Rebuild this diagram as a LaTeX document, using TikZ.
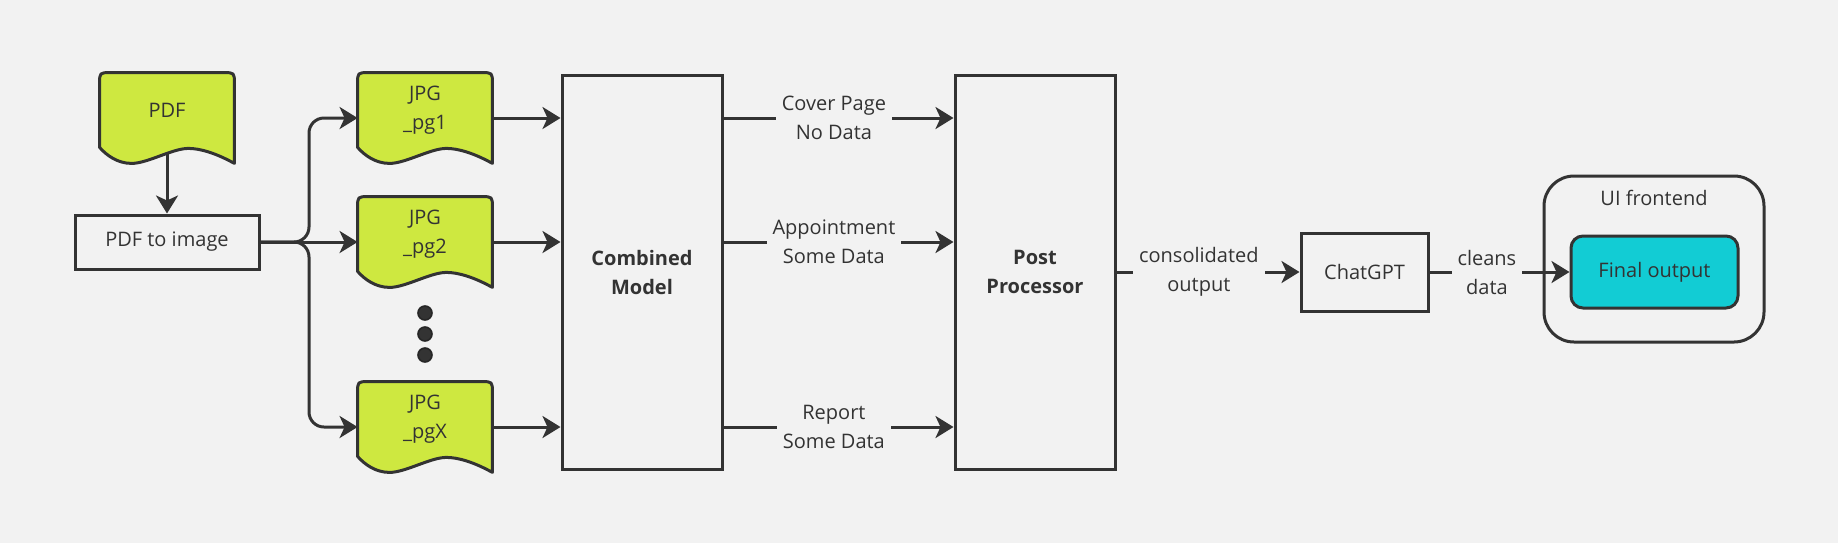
\documentclass[tikz,border=0pt]{standalone}
\usepackage{fontspec}
\setmainfont{Open Sans}
\usetikzlibrary{arrows.meta, positioning, calc}
\definecolor{canvasgray}{RGB}{242,242,242}
\definecolor{inkgray}{RGB}{51,51,51}
\definecolor{pagegreen}{RGB}{206,232,64}
\definecolor{outputcyan}{RGB}{18,204,212}
% outline of a page node (wavy bottom)
\newcommand{\pagedoc}[1]{%
    \filldraw[docline] ($(#1.south west)+(0,-16)$) -- ($(#1.north west)+(0,11)$)
        .. controls (#1.north west) .. ($(#1.north west)+(11,0)$)
        -- ($(#1.north east)+(-11,0)$)
        .. controls (#1.north east) .. ($(#1.north east)+(0,11)$)
        -- (#1.south east)
        .. controls ($(#1.south east)+(-18,-10)$) and ($(#1.south east)+(-34,-15)$) .. ($(#1.south east)+(-46,-15)$)
        .. controls ($(#1.south east)+(-62,-15)$) and ($(#1.south west)+(48,0)$) .. ($(#1.south west)+(32,0)$)
        .. controls ($(#1.south west)+(18,0)$) and ($(#1.south west)+(7,-8)$) .. ($(#1.south west)+(0,-16)$) -- cycle;
}

\begin{document}
\begin{tikzpicture}[
        x=0.5pt, y=-0.5pt,
        font=\fontsize{10}{14.5}\selectfont, text=inkgray,
        box/.style={draw=inkgray, line width=1.5pt, inner sep=0pt, align=center},
        boldbox/.style={box, font=\fontsize{10}{14.5}\selectfont\bfseries},
        docbox/.style={inner sep=0pt, minimum width=67pt, minimum height=45pt},
        docline/.style={draw=inkgray, fill=pagegreen, line width=1.5pt, line join=round},
        doctext/.style={align=center, inner sep=0pt},
        dot/.style={circle, fill=inkgray, draw=black!85, line width=0.8pt, minimum size=7pt, inner sep=0pt},
        arrow/.style={-{Stealth[length=9pt, width=11pt, inset=2.5pt]}, draw=inkgray, line width=1.5pt},
        lbl/.style={fill=canvasgray, inner xsep=3pt, inner ysep=1pt, align=center}
    ]
        % Background
        \fill[canvasgray] (0,0) rectangle (1838,543);

        % Input
        \node[docbox] (pdf) at (167,118) {};
        \pagedoc{pdf}
        \node[doctext] (pdf-txt) at ([yshift=4pt]pdf.center) {PDF};
        \node[box, minimum width=92pt, minimum height=27pt] (pdf2img) at (167,242) {PDF to image};

        % Pages
        \node[docbox] (pg1) at (425,118) {};
        \pagedoc{pg1}
        \node[doctext] (pg1-txt) at ([yshift=4pt]pg1.center) {JPG\\\_pg1};

        \node[docbox] (pg2) at (425,242) {};
        \pagedoc{pg2}
        \node[doctext] (pg2-txt) at ([yshift=4pt]pg2.center) {JPG\\\_pg2};

        \node[dot] (dot1) at (425,313) {};
        \node[dot] (dot2) at (425,334) {};
        \node[dot] (dot3) at (425,355) {};

        \node[docbox] (pgX) at (425,427) {};
        \pagedoc{pgX}
        \node[doctext] (pgX-txt) at ([yshift=4pt]pgX.center) {JPG\\\_pgX};

        % Models
        \node[boldbox, minimum width=80pt, minimum height=197pt] (comb) at (642,272) {Combined\\Model};
        \node[boldbox, minimum width=80pt, minimum height=197pt] (post) at (1035,272) {Post\\Processor};

        % Output
        \node[box, minimum width=63.5pt, minimum height=39pt] (chat) at (1364.5,272) {ChatGPT};
        \node[draw=inkgray, line width=1.5pt, rounded corners=15pt, minimum width=110pt, minimum height=83pt] (ui) at (1654,259) {};
        \node (ui-txt) at (1654,198) {UI frontend};
        \node[draw=inkgray, fill=outputcyan, line width=1.5pt, rounded corners=6pt, minimum width=83.5pt, minimum height=36pt] (final) at (1654.5,272) {Final output};

        % Arrows
        \coordinate (fork) at (309,242);
        \draw[arrow] ([yshift=5pt]pdf.south) -- (pdf2img);
        \draw[arrow, rounded corners=7.5pt] (pdf2img.east) -- (fork) |- (pg1.west);
        \draw[arrow, rounded corners=7.5pt] (pdf2img.east) -- (fork) |- (pgX.west);
        \draw[arrow] (pdf2img.east) -- (pg2.west);

        \draw[arrow] (pg1.east) -- (comb.west |- pg1.east);
        \draw[arrow] (pg2.east) -- (comb.west |- pg2.east);
        \draw[arrow] (pgX.east) -- (comb.west |- pgX.east);

        \draw[arrow] (comb.east |- pg1.east) -- node[lbl, pos=0.48] (lbl1) {Cover Page\\No Data} (post.west |- pg1.east);
        \draw[arrow] (comb.east |- pg2.east) -- node[lbl, pos=0.48] (lbl2) {Appointment\\Some Data} (post.west |- pg2.east);
        \draw[arrow] (comb.east |- pgX.east) -- node[lbl, pos=0.48] (lbl3) {Report\\Some Data} (post.west |- pgX.east);

        \draw[arrow] (post.east) -- node[lbl, pos=0.45] (lbl4) {consolidated\\output} (chat.west);
        \draw[arrow] (chat.east) -- node[lbl, pos=0.41] (lbl5) {cleans\\data} (final.west);
    \end{tikzpicture}
\end{document}
